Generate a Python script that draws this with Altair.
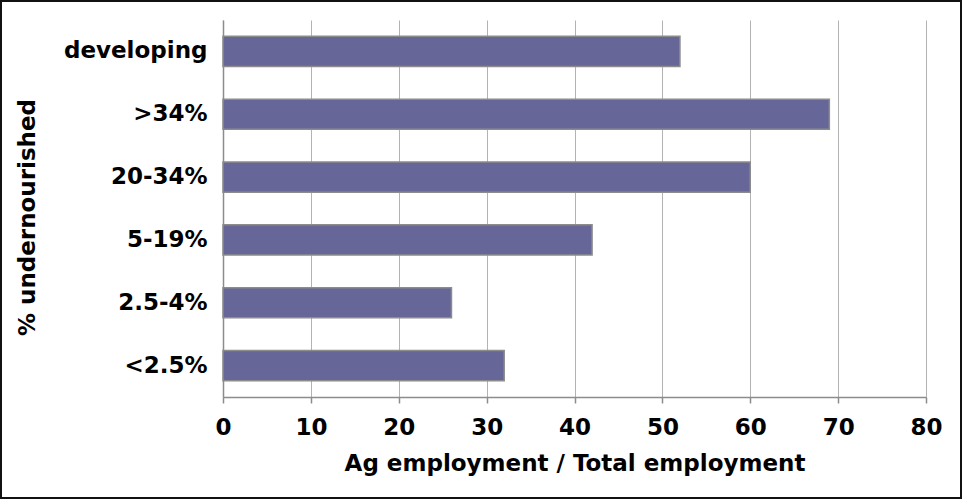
import altair as alt
import pandas as pd

categories = ["developing", ">34%", "20-34%", "5-19%\u2002", "2.5-4%", "<2.5%"]
values = [52, 69, 60, 42, 26, 32]

df = pd.DataFrame({"group": categories, "share": values})

FONT = "DejaVu Sans"

bars = alt.Chart(df).mark_bar(
    color="#666699", stroke="#8c8c8c", strokeWidth=1.5
).encode(
    x=alt.X("share:Q",
            scale=alt.Scale(domain=[0, 80], nice=False, zero=True),
            axis=alt.Axis(values=[0, 10, 20, 30, 40, 50, 60, 70, 80],
                          title="Ag employment / Total employment",
                          grid=True, gridColor="#b3b3b3", gridWidth=1,
                          domainColor="#8c8c8c", domainWidth=1.5,
                          tickColor="#8c8c8c", tickSize=6, tickWidth=1.5,
                          labelFlush=False,
                          labelFont=FONT, labelFontSize=23, labelFontWeight="bold",
                          labelColor="black", labelPadding=13,
                          titleFont=FONT, titleFontSize=23, titleFontWeight="bold",
                          titleColor="black", titlePadding=13)),
    y=alt.Y("group:N", sort=categories,
            scale=alt.Scale(paddingInner=0.52, paddingOuter=0.26),
            axis=alt.Axis(title="% undernourished", ticks=False,
                          domainColor="#8c8c8c", domainWidth=1.5,
                          labelFont=FONT, labelFontSize=23, labelFontWeight="bold",
                          labelColor="black", labelPadding=16,
                          titleFont=FONT, titleFontSize=23, titleFontWeight="bold",
                          titleColor="black", titlePadding=24, titleY=197))
)

frame = alt.Chart(df).mark_rect(
    fill=None, stroke="#111111", strokeWidth=2, clip=False
).encode(
    x=alt.value(-222), x2=alt.value(738), y=alt.value(-19), y2=alt.value(478)
)

chart = alt.layer(bars, frame).properties(
    width=703, height=377,
    autosize=alt.AutoSizeParams(type="none"),
    padding={"left": 223, "top": 20, "right": 37, "bottom": 103},
    background="white"
).configure_view(stroke=None)

chart.save("out.html", embed_options={"renderer": "svg", "actions": False})
